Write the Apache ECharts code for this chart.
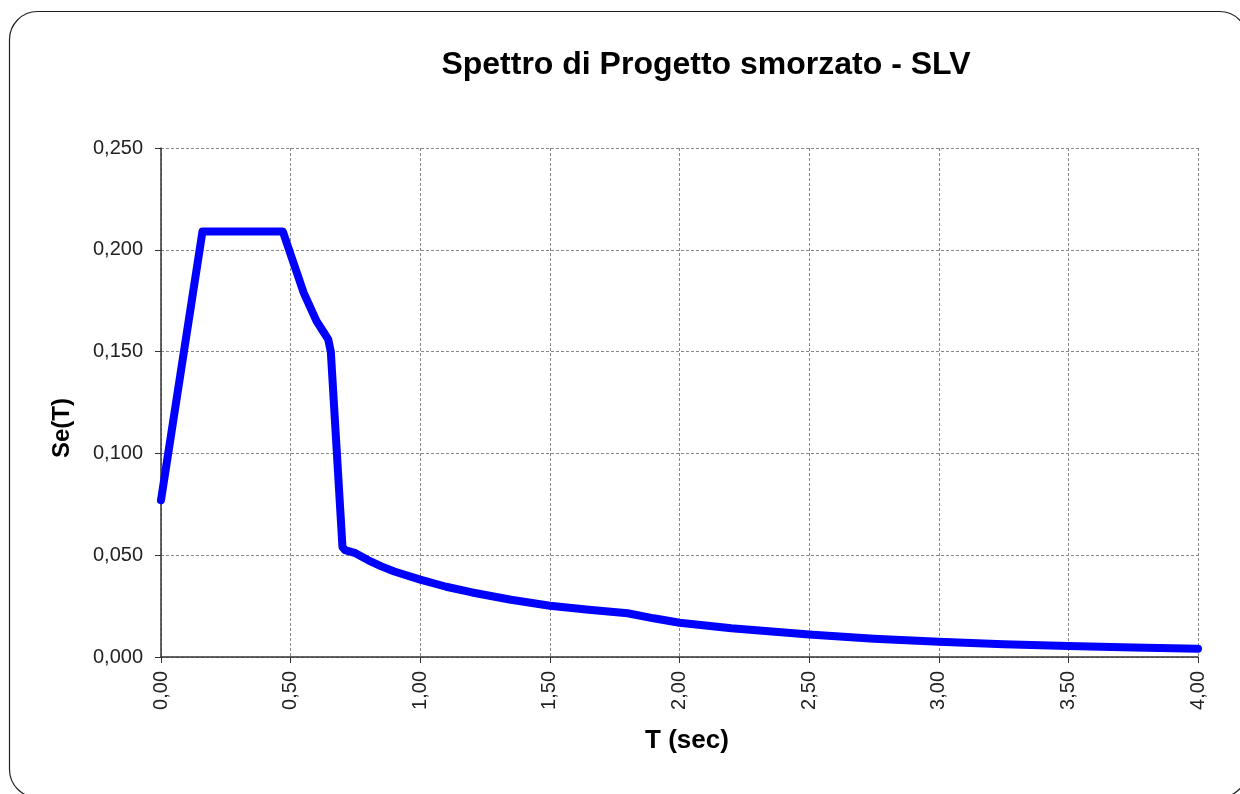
<!DOCTYPE html>
<html>
<head>
<meta charset="utf-8">
<title>Spettro di Progetto smorzato - SLV</title>
<script src="https://cdn.jsdelivr.net/npm/echarts@6/dist/echarts.min.js"></script>
<style>
  html, body { margin: 0; padding: 0; background: #fff; }
  #chart { width: 1240px; height: 794px; }
</style>
</head>
<body>
<div id="chart"></div>
<script>
// periodo T (sec) e ordinate spettrali Se(T)
const periodT = [
  0.00, 0.16, 0.18, 0.47, 0.51, 0.55, 0.60, 0.625, 0.645, 0.655, 0.700,
  0.71, 0.75, 0.80, 0.85, 0.90, 1.00, 1.10, 1.20, 1.35, 1.50, 1.65, 1.80,
  1.90, 2.00, 2.20, 2.50, 2.75, 3.00, 3.25, 3.50, 3.75, 4.00
];
const spectrumSe = [
  0.077, 0.209, 0.209, 0.209, 0.194, 0.179, 0.165, 0.160, 0.156, 0.150, 0.054,
  0.0525, 0.051, 0.0475, 0.0445, 0.042, 0.038, 0.0345, 0.0317, 0.0281, 0.0252, 0.0232, 0.0215,
  0.019, 0.0168, 0.0141, 0.0110, 0.0090, 0.0075, 0.0063, 0.0054, 0.0047, 0.0041
];

const chart = echarts.init(document.getElementById("chart"));
const fontFamily = "Liberation Sans, Arial, sans-serif";

chart.setOption({
  animation: false,
  backgroundColor: "#fff",
  graphic: [
    {
      type: "rect",
      shape: { x: 9.5, y: 11.5, width: 1238, height: 786, r: 28 },
      style: { fill: "none", stroke: "#222", lineWidth: 1.2 },
      z: -1,
    },
    // titoli degli assi (Excel li centra un po' fuori dal centro dell'area)
    {
      type: "text",
      x: 62,
      y: 428,
      rotation: Math.PI / 2,
      style: {
        text: "Se(T)",
        fontFamily,
        fontSize: 24,
        fontWeight: "bold",
        fill: "#000",
        align: "center",
        verticalAlign: "middle",
      },
    },
    {
      type: "text",
      x: 687,
      y: 741,
      style: {
        text: "T (sec)",
        fontFamily,
        fontSize: 26,
        fontWeight: "bold",
        fill: "#000",
        align: "center",
        verticalAlign: "middle",
      },
    },
  ],
  title: {
    text: "Spettro di Progetto smorzato - SLV",
    left: 701,
    top: 44,
    textAlign: "center",
    textStyle: { fontFamily, fontSize: 32, fontWeight: "bold", color: "#000" },
  },
  grid: { left: 161, right: 42, top: 148, bottom: 137 },
  xAxis: {
    type: "value",
    min: 0,
    max: 4,
    interval: 0.5,
    axisLine: { lineStyle: { color: "#333", width: 1.5 } },
    axisTick: { show: true, length: 6, lineStyle: { color: "#333" } },
    axisLabel: {
      rotate: 90,
      margin: 14,
      fontFamily,
      fontSize: 20,
      color: "#222",
      formatter: (v) => v.toFixed(2).replace(".", ","),
    },
    splitLine: { show: true, lineStyle: { color: "#888", type: [3, 2], width: 1 } },
  },
  yAxis: {
    type: "value",
    min: 0,
    max: 0.25,
    interval: 0.05,
    axisLine: { show: true, lineStyle: { color: "#333", width: 1.5 } },
    axisTick: { show: true, length: 6, lineStyle: { color: "#333" } },
    axisLabel: {
      margin: 18,
      fontFamily,
      fontSize: 20,
      color: "#222",
      formatter: (v) => v.toFixed(3).replace(".", ","),
    },
    splitLine: { show: true, lineStyle: { color: "#888", type: [3, 2], width: 1 } },
  },
  series: [
    {
      name: "Se(T)",
      type: "line",
      data: periodT.map((t, i) => [t, spectrumSe[i]]),
      showSymbol: false,
      smooth: false,
      lineStyle: { color: "#0000ff", width: 8, join: "round", cap: "round" },
      itemStyle: { color: "#0000ff" },
    },
  ],
});
</script>
</body>
</html>
